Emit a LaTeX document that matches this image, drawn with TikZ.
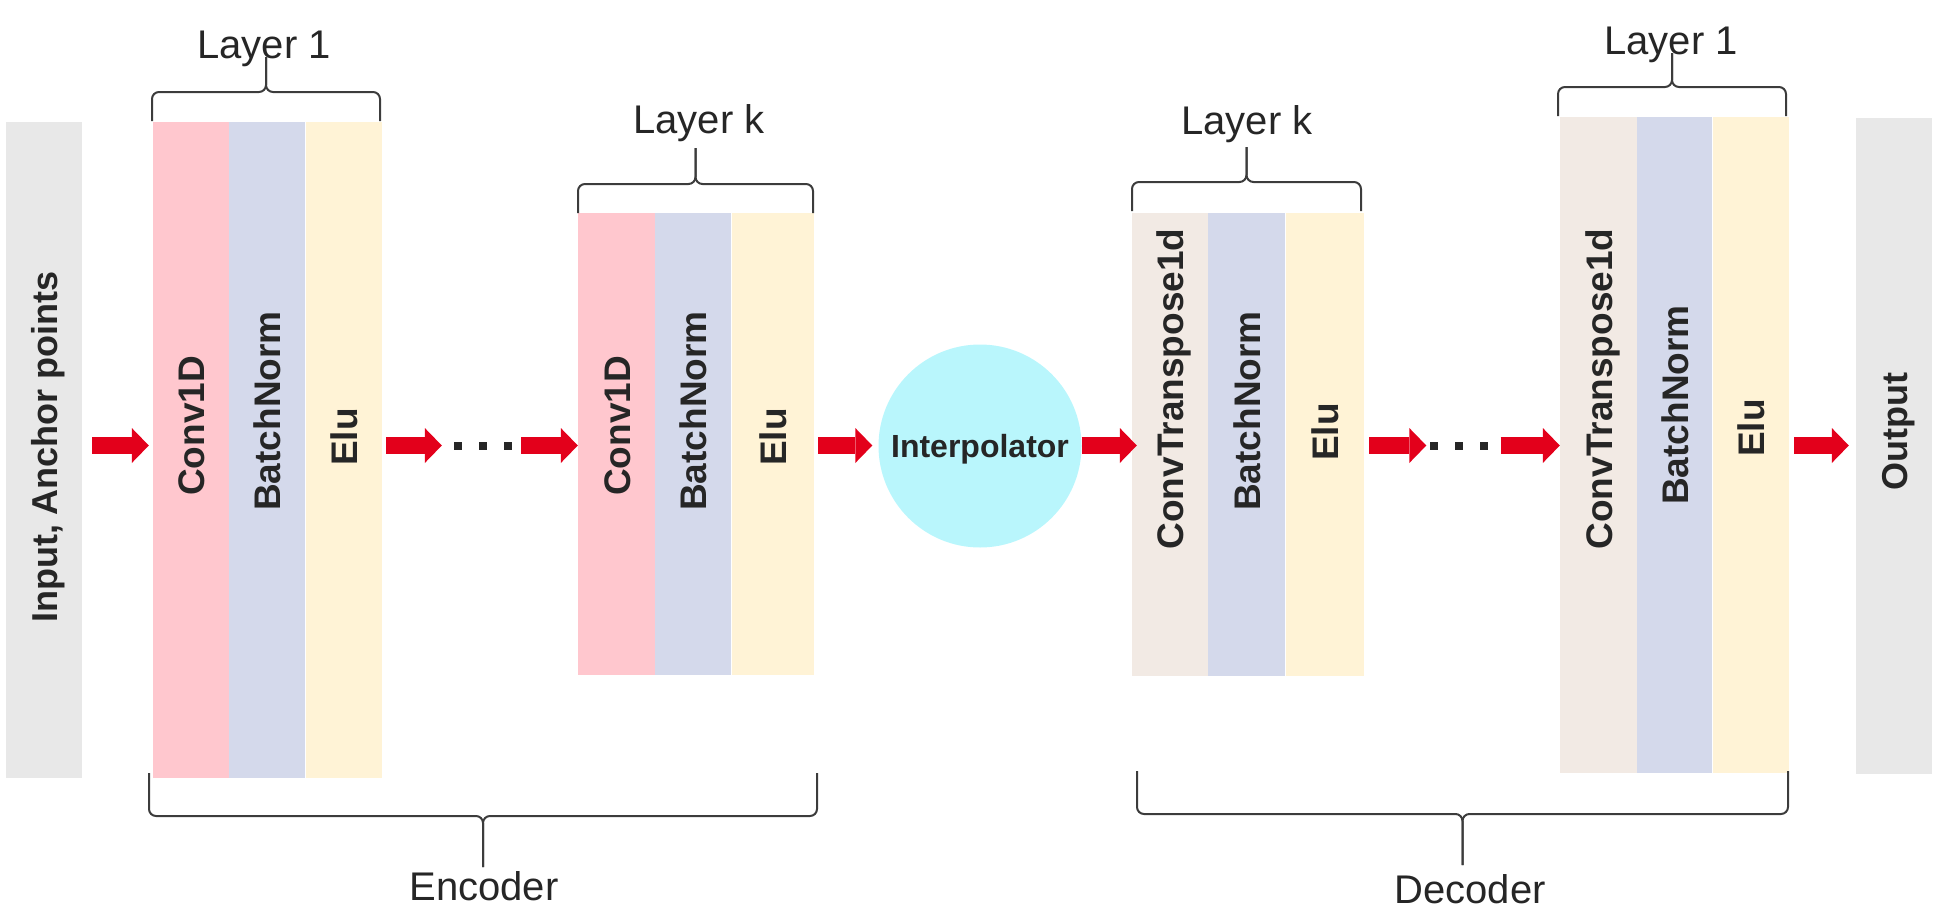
\documentclass[tikz,border=0pt]{standalone}
\usepackage{fontspec}
\setmainfont{Liberation Sans}
\usetikzlibrary{positioning,arrows.meta}
\definecolor{convred}{HTML}{FFC7CE}
\definecolor{normblue}{HTML}{D4D9EB}
\definecolor{eluyellow}{HTML}{FFF3D6}
\definecolor{transbeige}{HTML}{F2EAE4}
\definecolor{iogray}{HTML}{E8E8E8}
\definecolor{interpcyan}{HTML}{B9F6FC}
\definecolor{flowred}{HTML}{E3001B}
\definecolor{inkgray}{HTML}{262626}
\newcommand{\threedots}{\rule{8pt}{8pt}\hspace{17pt}\rule{8pt}{8pt}\hspace{17pt}\rule{8pt}{8pt}}
\tikzset{
  col/.style={rectangle, inner sep=0pt, minimum width=76, minimum height=#1},
  vlabel/.style={rotate=90, inner sep=0pt, text=inkgray, text height=27, text depth=0,
    font=\bfseries\fontsize{37}{44}\selectfont},
  iolabel/.style={vlabel, text height=26, font=\bfseries\fontsize{36}{43}\selectfont},
  bracelabel/.style={anchor=base, inner sep=0pt, text=inkgray, font=\fontsize{40}{48}\selectfont},
  bracepen/.style={draw=inkgray!90, line width=2, rounded corners=7},
  flowarrow/.style={draw=flowred, line width=17, -{Triangle[length=17pt, width=35pt, line width=0pt]}},
  dotrow/.style={inner sep=0pt, text=inkgray}
}
\begin{document}
\begin{tikzpicture}[x=1pt, y=-1pt]
  \newcommand{\layerbrace}[5]{%
    \draw[bracepen] ({(#1+#2)/2},#5) -- ({(#1+#2)/2},#4) -- (#1,#4) -- (#1,#3);
    \draw[bracepen] ({(#1+#2)/2},#5) -- ({(#1+#2)/2},#4) -- (#2,#4) -- (#2,#3);}
  \useasboundingbox (0,0) rectangle (1941,910);
  \coordinate (flow) at (0,445.5);
  % encoder
  \node[col=656, fill=iogray] (inp) at (44,450) {};
  \node[col=656, fill=convred] (e1conv) at (191,450) {};
  \node[col=656, fill=normblue, right=0pt of e1conv] (e1norm) {};
  \node[col=656, fill=eluyellow, right=0pt of e1norm] (e1elu) {};
  \node[col=462, fill=convred, minimum width=77] (ekconv) at (616.5,444) {};
  \node[col=462, fill=normblue, right=0pt of ekconv] (eknorm) {};
  \node[col=462, fill=eluyellow, minimum width=82, right=0pt of eknorm] (ekelu) {};
  \node[dotrow] (encdots) at (483,445.5) {\threedots};
  % interpolator
  \node[circle, fill=interpcyan, minimum size=203, inner sep=0pt, text=inkgray,
    text height=23, text depth=0, font=\bfseries\fontsize{32}{38}\selectfont] (interp) at (980,446) {Interpolator};
  % decoder
  \node[col=463, fill=transbeige] (dkconv) at (1170,444.5) {};
  \node[col=463, fill=normblue, minimum width=77, right=0pt of dkconv] (dknorm) {};
  \node[col=463, fill=eluyellow, minimum width=78, right=0pt of dknorm] (dkelu) {};
  \node[dotrow] (decdots) at (1458.5,445.5) {\threedots};
  \node[col=656, fill=transbeige, minimum width=77] (d1conv) at (1598.5,445) {};
  \node[col=656, fill=normblue, minimum width=75, right=0pt of d1conv] (d1norm) {};
  \node[col=656, fill=eluyellow, right=0pt of d1norm] (d1elu) {};
  \node[col=656, fill=iogray] (outp) at (1894,446) {};
  % texts
  \node[iolabel] (inpt) at (inp |- 0,447) {Input, Anchor points};
  \node[vlabel] (e1convt) at (e1conv |- 0,426) {Conv1D};
  \node[vlabel] (e1normt) at (e1norm |- 0,411) {BatchNorm};
  \node[vlabel] (e1elut) at (e1elu |- 0,437) {Elu};
  \node[vlabel] (ekconvt) at (ekconv |- 0,426) {Conv1D};
  \node[vlabel] (eknormt) at (eknorm |- 0,411) {BatchNorm};
  \node[vlabel] (ekelut) at (ekelu |- 0,437) {Elu};
  \node[vlabel] (dkconvt) at (dkconv |- 0,389) {ConvTranspose1d};
  \node[vlabel] (dknormt) at (dknorm |- 0,411) {BatchNorm};
  \node[vlabel] (dkelut) at (dkelu |- 0,432) {Elu};
  \node[vlabel] (d1convt) at (d1conv |- 0,389) {ConvTranspose1d};
  \node[vlabel] (d1normt) at (d1norm |- 0,405) {BatchNorm};
  \node[vlabel] (d1elut) at (d1elu |- 0,428) {Elu};
  \node[iolabel] (outpt) at (outp |- 0,432) {Output};
  % arrows
  \draw[flowarrow, shorten <=10, shorten >=4] (inp.east |- flow) -- (e1conv.west |- flow);
  \draw[flowarrow, shorten <=4, shorten >=12] (e1elu.east |- flow) -- (encdots.west);
  \draw[flowarrow, shorten <=9] (encdots.east) -- (ekconv.west |- flow);
  \draw[flowarrow, shorten <=4, shorten >=6] (ekelu.east |- flow) -- (interp.west |- flow);
  \draw[flowarrow, shorten >=-5] (interp.east |- flow) -- (dkconv.west |- flow);
  \draw[flowarrow, shorten <=5, shorten >=3] (dkelu.east |- flow) -- (decdots.west);
  \draw[flowarrow, shorten <=13] (decdots.east) -- (d1conv.west |- flow);
  \draw[flowarrow, shorten <=5, shorten >=7] (d1elu.east |- flow) -- (outp.west |- flow);
  % braces
  \layerbrace{152}{380}{121}{92}{57}
  \layerbrace{578}{813}{213}{184}{148}
  \layerbrace{1132}{1361}{211}{182}{147}
  \layerbrace{1558}{1786}{116}{87}{53}
  \layerbrace{149}{817}{773}{816}{867}
  \layerbrace{1137}{1788}{771}{814}{865}
  \node[bracelabel] (l1enc) at (264,58) {Layer 1};
  \node[bracelabel] (lkenc) at (699,133) {Layer k};
  \node[bracelabel] (lkdec) at (1247,134) {Layer k};
  \node[bracelabel] (l1dec) at (1671,54) {Layer 1};
  \node[bracelabel] (enc) at (484,900) {Encoder};
  \node[bracelabel] (dec) at (1470,903) {Decoder};
\end{tikzpicture}
\end{document}
